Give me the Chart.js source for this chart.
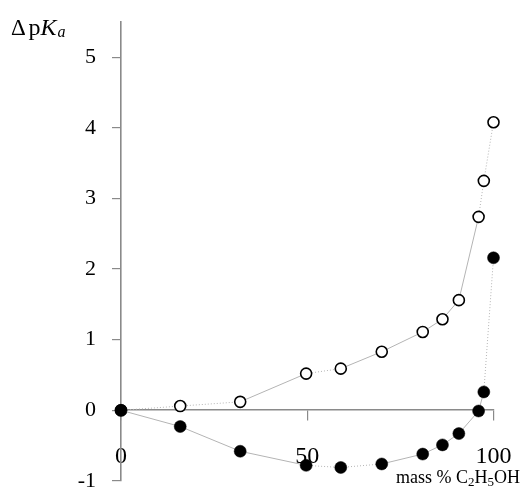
<!DOCTYPE html>
<html>
<head>
<meta charset="utf-8">
<script src="https://cdn.jsdelivr.net/npm/chart.js@4.4.1/dist/chart.umd.min.js"></script>
<style>
html,body{margin:0;padding:0;background:#fff;}
#wrap{width:520px;height:488px;position:relative;}
</style>
</head>
<body>
<div id="wrap"><canvas id="c" width="520" height="488"></canvas></div>
<script>
// Data
const massPercent = [0, 15.9, 32, 49.7, 59, 70, 81, 86.3, 90.7, 96, 97.4, 100];
const openValues   = [0, 0.06, 0.12, 0.52, 0.59, 0.83, 1.11, 1.29, 1.56, 2.74, 3.25, 4.08];
const filledValues = [0, -0.23, -0.58, -0.78, -0.81, -0.76, -0.62, -0.49, -0.33, -0.01, 0.26, 2.16];
const xTicks = [0, 50, 100];
const yTicks = [-1, 0, 1, 2, 3, 4, 5];

// segment styles (index of segment start): dotted segments
const openDotted = [0, 1, 3, 9, 10];
const filledDotted = [3, 4, 10];

const LINE = '#b4b4b4';
const AXIS = '#8a8a8a';
const SERIF = '"Liberation Serif", "Times New Roman", serif';

const toPts = (vals) => massPercent.map((x, i) => ({x: x, y: vals[i]}));

const titles = {
  id: 'titles',
  afterDraw(chart) {
    const ctx = chart.ctx;
    ctx.save();
    ctx.fillStyle = '#000';
    ctx.textBaseline = 'alphabetic';
    ctx.textAlign = 'left';
    // y title  ΔpKa
    let x = 11, y = 35;
    ctx.font = '23px ' + SERIF;
    ctx.fillText('\u0394', x, y); x += ctx.measureText('\u0394 ').width - 3;
    ctx.font = '24px ' + SERIF;
    ctx.fillText('p', x, y); x += ctx.measureText('p').width;
    ctx.font = 'italic 24px ' + SERIF;
    ctx.fillText('K', x, y); x += ctx.measureText('K').width + 1;
    ctx.font = 'italic 16px ' + SERIF;
    ctx.fillText('a', x, y + 2);
    // x title  mass % C2H5OH
    x = 396; y = 482.5;
    const parts = [['mass % C', false], ['2', true], ['H', false], ['5', true], ['OH', false]];
    for (const [t, sub] of parts) {
      ctx.font = (sub ? '13px ' : '18px ') + SERIF;
      ctx.fillText(t, x, sub ? y + 3 : y);
      x += ctx.measureText(t).width;
    }
    ctx.restore();
  }
};

const segStyle = (dotted) => ({
  borderDash: ctx => dotted.includes(ctx.p0DataIndex) ? [1, 2] : undefined
});

new Chart(document.getElementById('c'), {
  type: 'scatter',
  data: {
    datasets: [
      {
        label: 'filled',
        data: toPts(filledValues),
        showLine: true,
        borderColor: LINE,
        borderWidth: 1,
        pointRadius: 6,
        pointBackgroundColor: '#000',
        pointBorderColor: '#000',
        pointBorderWidth: 0.5,
        clip: false,
        segment: segStyle(filledDotted)
      },
      {
        label: 'open',
        data: toPts(openValues),
        showLine: true,
        borderColor: LINE,
        borderWidth: 1,
        pointRadius: 5.5,
        pointBackgroundColor: '#fff',
        pointBorderColor: '#000',
        pointBorderWidth: 1.6,
        clip: false,
        segment: segStyle(openDotted)
      }
    ]
  },
  options: {
    responsive: false,
    animation: false,
    devicePixelRatio: 1,
    layout: { padding: { top: 22, bottom: 6, left: 0, right: 26.5 } },
    plugins: { legend: { display: false }, tooltip: { enabled: false } },
    scales: {
      x: {
        type: 'linear',
        min: 0, max: 100,
        position: { y: 0 },
        afterBuildTicks: s => { s.ticks = xTicks.map(v => ({value: v})); },
        afterFit: s => { s.height = 0; s.paddingLeft = 0; s.paddingRight = 0; s.paddingTop = 0; s.paddingBottom = 0; },
        border: { display: true, color: AXIS, width: 1.6 },
        grid: { display: true, drawOnChartArea: false, drawTicks: true, tickLength: 10, color: AXIS, lineWidth: 1.2 },
        ticks: { font: { family: SERIF, size: 24 }, color: '#000', padding: 22, maxRotation: 0 }
      },
      y: {
        type: 'linear',
        min: -1, max: 5.5,
        position: 'left',
        afterBuildTicks: s => { s.ticks = yTicks.map(v => ({value: v})); },
        afterFit: s => { s.width = 121; s.paddingTop = 0; s.paddingBottom = 0; },
        border: { display: true, color: AXIS, width: 1.6 },
        grid: { display: true, drawOnChartArea: false, drawTicks: true, tickLength: 9, color: AXIS, lineWidth: 1.2 },
        ticks: { font: { family: SERIF, size: 22 }, color: '#000', padding: 16 }
      }
    }
  },
  plugins: [titles]
});
</script>
</body>
</html>
